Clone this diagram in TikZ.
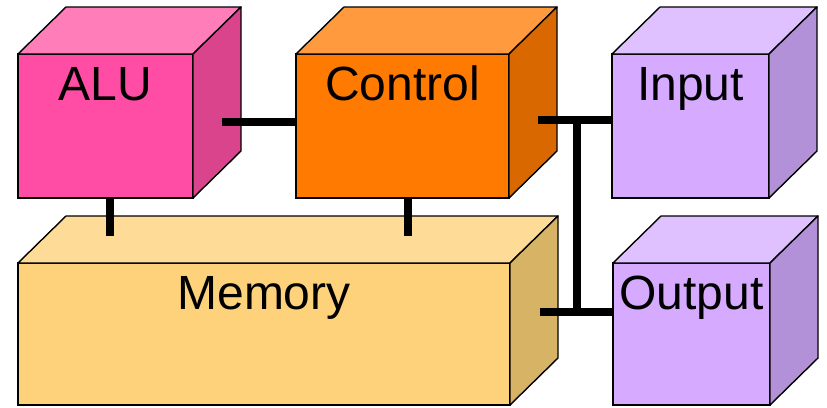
\documentclass[tikz,border=0pt]{standalone}
\usepackage{fontspec}
\setmainfont{Liberation Sans}
\usetikzlibrary{calc}

\definecolor{alufront}{HTML}{FF4DA6}
\definecolor{alutop}{HTML}{FF7DB9}
\definecolor{aluside}{HTML}{D9448D}
\definecolor{ctrlfront}{HTML}{FF7A00}
\definecolor{ctrltop}{HTML}{FF9A3E}
\definecolor{ctrlside}{HTML}{D96800}
\definecolor{iofront}{HTML}{D5AAFF}
\definecolor{iotop}{HTML}{E0C1FF}
\definecolor{ioside}{HTML}{B391D8}
\definecolor{memfront}{HTML}{FDD27B}
\definecolor{memtop}{HTML}{FEDC98}
\definecolor{memside}{HTML}{D7B365}

% #1 name, #2 x, #3 y of front top-left, #4 width, #5 height, #6 colour prefix, #7 label
\newcommand\blockcube[7]{%
  \node[frontface, fill=#6front, minimum width=#4pt, minimum height=#5pt,
        anchor=north west] (#1) at (#2,#3) {};
  \filldraw[faceline, fill=#6top] (#1.north west) -- ++(48,-47) -- ++(#4,0)
      -- (#1.north east) -- cycle;
  \filldraw[faceline, fill=#6side] (#1.north east) -- ++(48,-47) -- ++(0,#5)
      -- (#1.south east) -- cycle;
  \node[blocklabel] at ($(#1.north)+(0,46)$) {#7};
}

\begin{document}
\begin{tikzpicture}[x=1pt,y=-1pt,
  frontface/.style={draw=black, line width=1.4pt, rectangle, inner sep=0pt, outer sep=0pt},
  faceline/.style={draw=black, line width=1.4pt, line join=round},
  blocklabel/.style={anchor=base, font=\fontsize{48}{52}\selectfont, inner sep=0pt},
  bus/.style={line width=8pt, draw=black}]
\useasboundingbox (0,0) rectangle (827,407);

\blockcube{alu}{18}{54}{175}{144}{alu}{ALU}
\blockcube{ctrl}{296}{54}{213}{144}{ctrl}{Control}
\blockcube{in}{612}{54}{157}{144}{io}{Input}
\blockcube{mem}{18}{263}{492}{142}{mem}{Memory}
\blockcube{out}{613}{263}{157}{142}{io}{Output}

% connections between the units
\coordinate (aluR) at (222,122);
\draw[bus] (aluR) -- (ctrl.west |- aluR);
\coordinate (aluM) at (110,236);
\draw[bus] (aluM |- alu.south) -- (aluM);
\coordinate (ctrlM) at (408,236);
\draw[bus] (ctrlM |- ctrl.south) -- (ctrlM);
\coordinate (ctrlR) at (538,120);
\draw[bus] (ctrlR) -- (in.west |- ctrlR);
\coordinate (memR) at (540,312);
\draw[bus] (memR) -- (out.west |- memR);
\coordinate (busTop) at (577,120);
\coordinate (busBot) at (577,312);
\draw[bus] (busTop) -- (busBot);
\end{tikzpicture}
\end{document}
